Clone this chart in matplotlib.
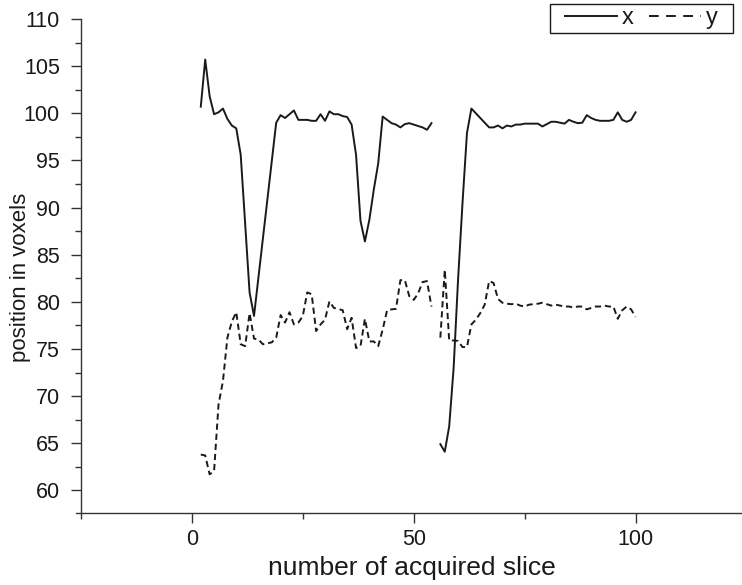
import numpy as np
import matplotlib
matplotlib.use("Agg")
import matplotlib.pyplot as plt
from matplotlib.ticker import FixedLocator
from matplotlib.lines import Line2D
from matplotlib.patches import Rectangle

plt.rcParams['font.family'] = ['Liberation Sans', 'DejaVu Sans']
FS_TICK, FS_XLAB, FS_YLAB, FS_LEG = 15.5, 19, 16, 17

# slice index 1..100; slices 1 and 55 have no estimate
slices = np.arange(1, 101)

pos_x = [
    np.nan, 100.7, 105.7, 101.8, 99.9, 100.1, 100.5, 99.4, 98.7, 98.4,      # 1-10
    95.6, 88.3, 81.0, 78.5, 82.6, 86.7, 90.8, 94.9, 99.0, 99.8,             # 11-20
    99.5, 99.9, 100.3, 99.3, 99.3, 99.3, 99.2, 99.2, 99.9, 99.2,            # 21-30
    100.2, 99.9, 99.9, 99.7, 99.6, 98.8, 95.6, 88.6, 86.4, 88.7,            # 31-40
    91.9, 94.7, 99.65, 99.3, 98.95, 98.8, 98.5, 98.85, 98.95, 98.8,         # 41-50
    98.65, 98.5, 98.25, 98.95, np.nan, 64.9, 64.1, 66.8, 73.0, 82.4,        # 51-60
    90.5, 97.9, 100.5, 100.0, 99.5, 99.0, 98.5, 98.5, 98.7, 98.4,           # 61-70
    98.7, 98.6, 98.8, 98.8, 98.9, 98.9, 98.9, 98.9, 98.6, 98.85,            # 71-80
    99.1, 99.1, 99.0, 98.9, 99.3, 99.1, 98.95, 99.0, 99.8, 99.5,            # 81-90
    99.3, 99.2, 99.2, 99.2, 99.3, 100.1, 99.3, 99.1, 99.3, 100.1,           # 91-100
]

pos_y = [
    np.nan, 63.8, 63.7, 61.7, 62.05, 69.1, 71.6, 76.2, 77.9, 78.9,          # 1-10
    75.5, 75.3, 78.8, 76.1, 76.0, 75.5, 75.6, 75.7, 76.2, 78.6,             # 11-20
    77.8, 78.9, 77.6, 77.8, 78.5, 81.0, 80.8, 76.9, 77.6, 78.1,             # 21-30
    80.05, 79.35, 79.25, 79.1, 77.1, 78.3, 75.1, 75.3, 78.2, 75.8,          # 31-40
    75.8, 75.3, 77.05, 79.1, 79.2, 79.25, 82.3, 82.3, 80.6, 80.2,           # 41-50
    80.9, 82.1, 82.2, 79.5, np.nan, 76.2, 83.4, 75.9, 75.9, 75.85,          # 51-60
    75.2, 75.2, 77.6, 78.1, 78.8, 79.7, 82.2, 82.0, 80.3, 79.9,             # 61-70
    79.8, 79.75, 79.8, 79.6, 79.5, 79.7, 79.75, 79.8, 79.9, 79.75,          # 71-80
    79.6, 79.7, 79.6, 79.5, 79.5, 79.4, 79.5, 79.5, 79.2, 79.35,            # 81-90
    79.5, 79.5, 79.6, 79.5, 79.5, 78.2, 79.1, 79.5, 79.2, 78.4,             # 91-100
]

x_major = [0, 50, 100]
x_minor = [-25, 25, 75]
y_major = [60, 65, 70, 75, 80, 85, 90, 95, 100, 105, 110]
y_minor = [62.5, 67.5, 72.5, 77.5, 82.5, 87.5, 92.5, 97.5, 102.5, 107.5]

W, H = 742, 585
fig = plt.figure(figsize=(W / 100, H / 100), dpi=100)
ax = fig.add_axes([81 / W, 72 / H, 661 / W, 494 / H])

ink = '#1a1a1a'
lw = 1.4
ax.plot(slices, pos_x, color=ink, lw=lw)
ax.plot(slices, pos_y, color=ink, lw=lw, linestyle=(0, (3.2, 2.0)))

ax.set_xlim(-25, 124)
ax.set_ylim(57.6, 110)

ax.spines['top'].set_visible(False)
ax.spines['right'].set_visible(False)
for s in ('left', 'bottom'):
    ax.spines[s].set_linewidth(1.0)
    ax.spines[s].set_color('#333333')
ax.spines['bottom'].set_bounds(-26.1, 124)

ax.xaxis.set_major_locator(FixedLocator(x_major))
ax.xaxis.set_minor_locator(FixedLocator(x_minor))
ax.yaxis.set_major_locator(FixedLocator(y_major))
ax.yaxis.set_minor_locator(FixedLocator(y_minor))
ax.tick_params(which='major', direction='out', length=7.2, width=1.0,
               labelsize=FS_TICK, color='#333333', labelcolor=ink)
ax.tick_params(axis='x', which='major', pad=4.5)
ax.tick_params(axis='y', which='major', pad=8.0)
ax.tick_params(which='minor', direction='out', length=4, width=1.0, color='#333333')

ax.set_xlabel('number of acquired slice', fontsize=FS_XLAB, color=ink)
ax.xaxis.set_label_coords(0.5, -0.087)
ax.set_ylabel('position in voxels', fontsize=FS_YLAB, color=ink)
ax.yaxis.set_label_coords(-0.075, 0.476)

# legend: two entries in one row, with a plain square frame
handles = [
    Line2D([], [], color=ink, lw=lw),
    Line2D([], [], color=ink, lw=lw, linestyle=(0, (5, 3.8))),
]
leg = fig.legend(handles, ['x', 'y'], loc='center', ncol=2, fontsize=FS_LEG,
                 frameon=False, handlelength=2.2, handletextpad=0.2,
                 columnspacing=0.65, borderpad=0.0,
                 bbox_to_anchor=(641.5 / W, 1 - 18 / H),
                 bbox_transform=fig.transFigure)
for t in leg.get_texts():
    t.set_color(ink)
fig.patches.append(Rectangle((550 / W, 1 - 33 / H), 183 / W, 29 / H,
                             transform=fig.transFigure, fill=False,
                             edgecolor=ink, lw=1.0))

fig.savefig('out.png', dpi=100)
